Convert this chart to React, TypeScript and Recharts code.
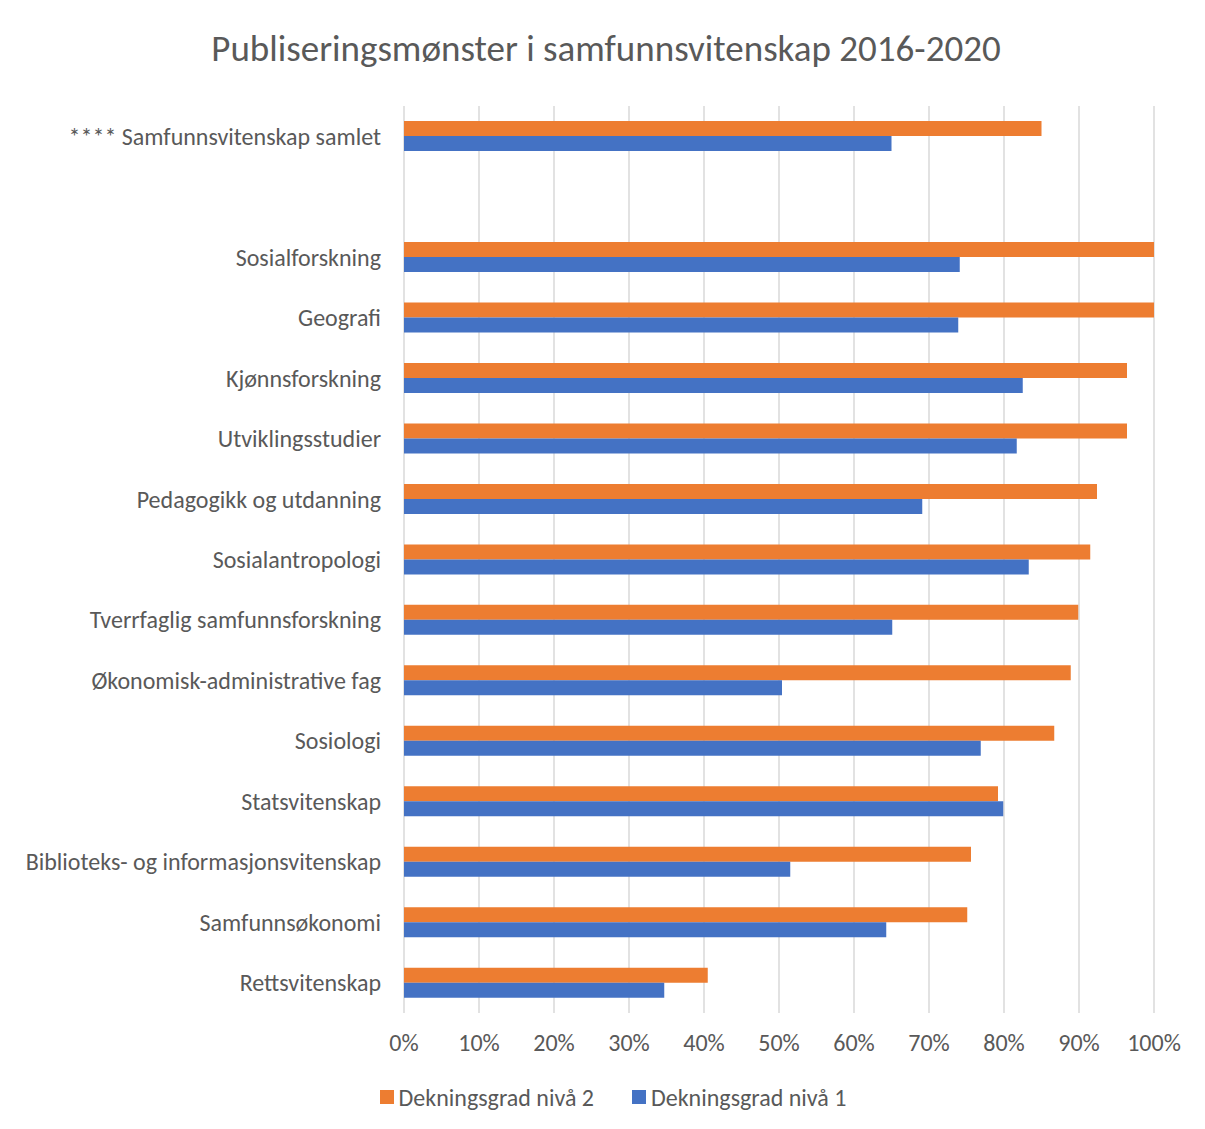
import { BarChart, Bar, XAxis, YAxis, CartesianGrid, Legend } from "recharts"

const categories = [
    "**** Samfunnsvitenskap samlet",
    "",
    "Sosialforskning",
    "Geografi",
    "Kjønnsforskning",
    "Utviklingsstudier",
    "Pedagogikk og utdanning",
    "Sosialantropologi",
    "Tverrfaglig samfunnsforskning",
    "Økonomisk-administrative fag",
    "Sosiologi",
    "Statsvitenskap",
    "Biblioteks- og informasjonsvitenskap",
    "Samfunnsøkonomi",
    "Rettsvitenskap",
]

// andel i prosent, null = tom rad
const niva2 = [85, null, 100, 100, 96.4, 96.4, 92.4, 91.5, 89.9, 88.9, 86.7, 79.2, 75.6, 75.1, 40.5]
const niva1 = [65, null, 74.1, 73.9, 82.5, 81.7, 69.1, 83.3, 65.1, 50.4, 76.9, 79.9, 51.5, 64.3, 34.7]

const xTicks = [0, 10, 20, 30, 40, 50, 60, 70, 80, 90, 100]

const data = categories.map((name, i) => ({ name, niva2: niva2[i], niva1: niva1[i] }))

const FONT = "Calibri, Carlito, Lato, sans-serif"
const TEXT = "#595959"
const ORANGE = "#ED7D31"
const BLUE = "#4472C4"

const LegendContent = () => (
    <div style={{ display: "flex", justifyContent: "center", alignItems: "center", fontFamily: FONT, fontSize: 24, color: TEXT, height: 30, paddingLeft: 64 }}>
        <span style={{ display: "inline-block", width: 14, height: 14, background: ORANGE, marginRight: 5 }} />
        <span style={{ marginRight: 38 }}>Dekningsgrad nivå 2</span>
        <span style={{ display: "inline-block", width: 14, height: 14, background: BLUE, marginRight: 5 }} />
        <span>Dekningsgrad nivå 1</span>
    </div>
)

export default function App() {
    return (
        <div style={{ position: "relative", width: 1196, height: 1120, borderTop: "1px solid #D9D9D9", borderLeft: "1px solid #D9D9D9", margin: "-1px 0 0 -1px", background: "#fff" }}>
            <div style={{ position: "absolute", top: 18, left: 0, width: 1196, textAlign: "center", fontFamily: FONT, fontSize: 37, color: TEXT, whiteSpace: "nowrap" }}>
                Publiseringsmønster i samfunnsvitenskap 2016-2020
            </div>
            <BarChart
                width={1196}
                height={1120}
                data={data}
                layout="vertical"
                barCategoryGap="25%"
                barGap={0}
                margin={{ top: 98, right: 50, bottom: 16, left: 0 }}
            >
                <CartesianGrid horizontal={false} stroke="#D9D9D9" strokeWidth={1.5} />
                <XAxis
                    type="number"
                    domain={[0, 100]}
                    ticks={xTicks}
                    tickFormatter={(v) => `${v}%`}
                    axisLine={false}
                    tickLine={false}
                    tickSize={0}
                    tickMargin={21}
                    height={69}
                    interval={0}
                    tick={{ fill: TEXT, fontSize: 24, fontFamily: FONT }}
                />
                <YAxis
                    type="category"
                    dataKey="name"
                    width={396}
                    axisLine={false}
                    tickLine={false}
                    tickSize={0}
                    tickMargin={23}
                    interval={0}
                    tick={{ fill: TEXT, fontSize: 24, fontFamily: FONT }}
                />
                <Legend verticalAlign="bottom" content={<LegendContent />} />
                <Bar dataKey="niva2" name="Dekningsgrad nivå 2" fill={ORANGE} isAnimationActive={false} />
                <Bar dataKey="niva1" name="Dekningsgrad nivå 1" fill={BLUE} isAnimationActive={false} />
            </BarChart>
        </div>
    )
}
